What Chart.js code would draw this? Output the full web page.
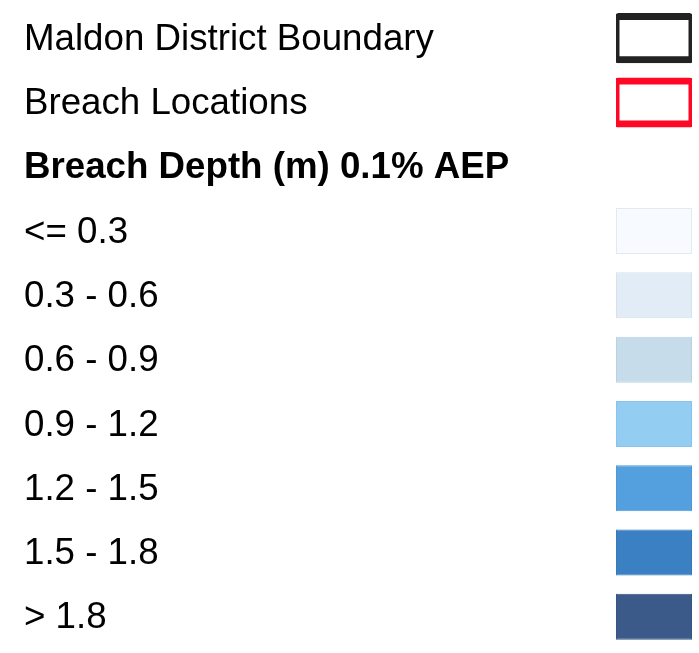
<!DOCTYPE html>
<html>
<head>
<meta charset="utf-8">
<script src="https://cdn.jsdelivr.net/npm/chart.js@4/dist/chart.umd.min.js"></script>
<style>
  html, body { margin: 0; padding: 0; background: #fff; }
  #wrap { width: 699px; height: 653px; }
</style>
</head>
<body>
<div id="wrap"><canvas id="legend"></canvas></div>
<script>
// legend rows, top to bottom
const rowLabels = [
  "Maldon District Boundary",
  "Breach Locations",
  "Breach Depth (m) 0.1% AEP",
  "<= 0.3",
  "0.3 - 0.6",
  "0.6 - 0.9",
  "0.9 - 1.2",
  "1.2 - 1.5",
  "1.5 - 1.8",
  "> 1.8"
];
const outlineRows = [1, 1, null, null, null, null, null, null, null, null];
const depthRows = [null, null, null, 1, 1, 1, 1, 1, 1, 1];

const outlineColors = ["#222222", "#ff0826", null, null, null, null, null, null, null, null];
const depthColors = [null, null, null, "#f7fbff", "#e1ecf6", "#c6dcea", "#93cdf1", "#54a0de", "#3b80c3", "#3b5a89"];
const depthEdges = [null, null, null, "#e4e9ee", "#d6e1eb", "#b9d1e1", "#88c3ea", "#4d98d6", "#3779bb", "#375582"];

const TITLE_ROW = 2;

const ctx = document.getElementById("legend").getContext("2d");
new Chart(ctx, {
  type: "bar",
  data: {
    labels: rowLabels,
    datasets: [
      {
        label: "outlines",
        data: outlineRows,
        backgroundColor: "#ffffff",
        borderColor: outlineColors,
        borderWidth: 7,
        borderRadius: 6,
        borderSkipped: false,
        inflateAmount: 3.5,
        barPercentage: 0.67,
        categoryPercentage: 1,
        grouped: false
      },
      {
        label: "depth",
        data: depthRows,
        backgroundColor: depthColors,
        borderColor: depthEdges,
        borderWidth: 1,
        borderSkipped: false,
        inflateAmount: 0,
        barPercentage: 0.715,
        categoryPercentage: 1,
        grouped: false
      }
    ]
  },
  options: {
    indexAxis: "y",
    responsive: true,
    maintainAspectRatio: false,
    animation: false,
    layout: { autoPadding: false, padding: { left: 24, right: 7, top: 6, bottom: 4 } },
    plugins: {
      legend: { display: false },
      tooltip: { enabled: false }
    },
    scales: {
      x: {
        display: false,
        min: 0,
        max: 1
      },
      y: {
        grid: { display: false },
        border: { display: false },
        afterFit: (scale) => {
          scale.width = 592;
          scale.paddingTop = 0;
          scale.paddingBottom = 0;
        },
        ticks: {
          autoSkip: false,
          crossAlign: "far",
          padding: 0,
          labelOffset: 1.5,
          color: "#000000",
          font: (c) => ({
            family: "'Liberation Sans', Arial, sans-serif",
            size: 36.7,
            weight: c.index === TITLE_ROW ? "bold" : "normal"
          })
        }
      }
    }
  }
});
</script>
</body>
</html>
